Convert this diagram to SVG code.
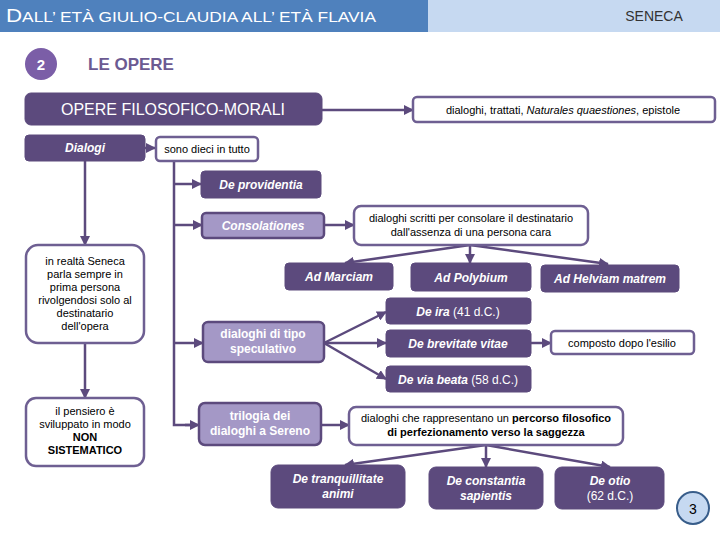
<svg xmlns="http://www.w3.org/2000/svg" width="720" height="540" viewBox="0 0 720 540">
<style>
text{font-family:"Liberation Sans",Arial,sans-serif}
.dk{fill:#5C4A7D;stroke:#5C4A7D;stroke-width:1}
.lt{fill:#A498C6;stroke:#5C4A7D;stroke-width:2.5}
.wh{fill:#FFFFFF;stroke:#6E5F92;stroke-width:2.5}
.tw{fill:#FFFFFF;font-size:12px;font-weight:bold;font-style:italic;text-anchor:middle}
.tn{fill:#FFFFFF;font-size:12px;font-weight:bold;text-anchor:middle}
.tr{fill:#FFFFFF;font-size:12px;text-anchor:middle}
.tk{fill:#000000;font-size:11px;text-anchor:middle}
.tb{fill:#000000;font-size:11px;font-weight:bold;text-anchor:middle}
.ln{fill:none;stroke:#5C4A7D;stroke-width:2.5;marker-end:url(#ah)}
.pl{fill:none;stroke:#5C4A7D;stroke-width:2.5}
</style>
<defs>
<marker id="ah" markerUnits="userSpaceOnUse" markerWidth="10" markerHeight="10" viewBox="0 0 10 10" refX="9" refY="5" orient="auto">
<path d="M0,0 L10,5 L0,10 Z" fill="#5C4A7D"/>
</marker>
</defs>
<rect width="720" height="540" fill="#FFFFFF"/>
<g id="header">
<rect x="0" y="0" width="428" height="32" fill="#4F81BD"/>
<rect x="428" y="0" width="292" height="32" fill="#C6D9F1"/>
<text x="6" y="22" fill="#FFFFFF" font-size="14" textLength="370" lengthAdjust="spacingAndGlyphs"><tspan font-size="18">D</tspan>ALL’ ETÀ GIULIO-CLAUDIA ALL’ ETÀ FLAVIA</text>
<text x="654" y="21" fill="#333333" font-size="14" text-anchor="middle">SENECA</text>
</g>
<g id="section">
<circle cx="41" cy="64" r="16" fill="#7B5EA7"/>
<text x="41" y="70" fill="#FFFFFF" font-size="15" font-weight="bold" text-anchor="middle">2</text>
<text x="88" y="70" fill="#6B5A92" font-size="17" font-weight="bold">LE OPERE</text>
</g>
<g id="connectors">
<path class="ln" d="M322,110 L413,110"/>
<path class="ln" d="M145,148 L155,148"/>
<path class="ln" d="M85,161 L85,245"/>
<path class="ln" d="M85,343 L85,398"/>
<path class="pl" d="M174,161 L174,425 L190,425"/>
<path class="ln" d="M174,184 L201,184"/>
<path class="ln" d="M174,225 L202,225"/>
<path class="ln" d="M174,343 L203,343"/>
<path class="ln" d="M185,425 L199,425"/>
<path class="ln" d="M324,225 L354,225"/>
<path class="ln" d="M470,245 L345,263"/>
<path class="ln" d="M470,245 L470,263"/>
<path class="ln" d="M470,245 L608,264"/>
<path class="ln" d="M324,343 L386,312"/>
<path class="ln" d="M324,343 L386,343"/>
<path class="ln" d="M324,343 L386,379"/>
<path class="ln" d="M531,343 L551,343"/>
<path class="ln" d="M321,425 L349,425"/>
<path class="ln" d="M486,445 L345,465"/>
<path class="ln" d="M486,445 L486,467"/>
<path class="ln" d="M486,445 L610,467"/>
</g>
<g id="opere">
<rect class="dk" x="25" y="93" width="297" height="32" rx="6"/>
<text x="173" y="115" fill="#FFFFFF" font-size="16" text-anchor="middle">OPERE  FILOSOFICO-MORALI</text>
</g>
<g id="generi">
<rect class="wh" x="413" y="97" width="302" height="25" rx="4"/>
<text class="tk" x="563" y="114">dialoghi, trattati, <tspan font-style="italic">Naturales quaestiones</tspan>, epistole</text>
</g>
<g id="dialogi">
<rect class="dk" x="25" y="135" width="120" height="26" rx="4"/>
<text class="tw" x="85" y="152">Dialogi</text>
</g>
<g id="dieci">
<rect class="wh" x="156" y="137" width="102" height="24" rx="4"/>
<text class="tk" x="207" y="153">sono dieci in tutto</text>
</g>
<g id="realta">
<rect class="wh" x="26" y="245" width="118" height="98" rx="12"/>
<text class="tk" x="85" y="265">in realtà Seneca</text>
<text class="tk" x="85" y="278">parla sempre in</text>
<text class="tk" x="85" y="291">prima persona</text>
<text class="tk" x="85" y="304">rivolgendosi solo al</text>
<text class="tk" x="85" y="317">destinatario</text>
<text class="tk" x="85" y="330">dell'opera</text>
</g>
<g id="pensiero">
<rect class="wh" x="26" y="398" width="118" height="68" rx="10"/>
<text class="tk" x="85" y="415">il pensiero è</text>
<text class="tk" x="85" y="428">sviluppato  in modo</text>
<text class="tb" x="85" y="441">NON</text>
<text class="tb" x="85" y="454">SISTEMATICO</text>
</g>
<g id="providentia">
<rect class="dk" x="201" y="171" width="120" height="27" rx="4"/>
<text class="tw" x="261" y="189">De providentia</text>
</g>
<g id="consolationes">
<rect class="lt" x="202" y="213" width="122" height="25" rx="4"/>
<text class="tw" x="263" y="230">Consolationes</text>
</g>
<g id="consolare">
<rect class="wh" x="354" y="206" width="234" height="39" rx="7"/>
<text class="tk" x="471" y="222">dialoghi scritti per consolare il destinatario</text>
<text class="tk" x="471" y="236">dall'assenza di una persona cara</text>
</g>
<g id="marciam">
<rect class="dk" x="285" y="263" width="108" height="27" rx="4"/>
<text class="tw" x="339" y="281">Ad Marciam</text>
</g>
<g id="polybium">
<rect class="dk" x="411" y="263" width="120" height="28" rx="4"/>
<text class="tw" x="471" y="282">Ad Polybium</text>
</g>
<g id="helviam">
<rect class="dk" x="541" y="265" width="138" height="27" rx="4"/>
<text class="tw" x="610" y="283">Ad Helviam matrem</text>
</g>
<g id="speculativo">
<rect class="lt" x="203" y="322" width="121" height="40" rx="5"/>
<text class="tn" x="263" y="338">dialoghi di tipo</text>
<text class="tn" x="263" y="353">speculativo</text>
</g>
<g id="ira">
<rect class="dk" x="386" y="298" width="145" height="26" rx="4"/>
<text class="tw" x="458" y="316">De ira <tspan font-weight="normal" font-style="normal">(41 d.C.)</tspan></text>
</g>
<g id="brevitate">
<rect class="dk" x="386" y="330" width="145" height="27" rx="4"/>
<text class="tw" x="458" y="348">De brevitate vitae</text>
</g>
<g id="esilio">
<rect class="wh" x="551" y="331" width="143" height="23" rx="4"/>
<text class="tk" x="622" y="347">composto dopo l'esilio</text>
</g>
<g id="beata">
<rect class="dk" x="386" y="366" width="145" height="26" rx="4"/>
<text class="tw" x="458" y="384">De via beata <tspan font-weight="normal" font-style="normal">(58 d.C.)</tspan></text>
</g>
<g id="trilogia">
<rect class="lt" x="199" y="403" width="122" height="42" rx="6"/>
<text class="tn" x="260" y="420">trilogia dei</text>
<text class="tn" x="260" y="435">dialoghi a Sereno</text>
</g>
<g id="percorso">
<rect class="wh" x="349" y="407" width="274" height="38" rx="7"/>
<text class="tk" x="486" y="422">dialoghi che rappresentano un <tspan font-weight="bold">percorso filosofico</tspan></text>
<text class="tb" x="486" y="436">di perfezionamento verso la saggezza</text>
</g>
<g id="tranquillitate">
<rect class="dk" x="271" y="465" width="134" height="43" rx="7"/>
<text class="tw" x="338" y="483">De tranquillitate</text>
<text class="tw" x="338" y="498">animi</text>
</g>
<g id="constantia">
<rect class="dk" x="429" y="467" width="114" height="42" rx="7"/>
<text class="tw" x="486" y="485">De constantia</text>
<text class="tw" x="486" y="500">sapientis</text>
</g>
<g id="otio">
<rect class="dk" x="555" y="467" width="109" height="42" rx="7"/>
<text class="tw" x="610" y="485">De otio</text>
<text class="tr" x="610" y="500">(62 d.C.)</text>
</g>
<g id="page">
<circle cx="693" cy="508" r="16" fill="#C6D9F1" stroke="#385D8A" stroke-width="2"/>
<text x="693" y="514" fill="#000000" font-size="14" text-anchor="middle">3</text>
</g>
</svg>
